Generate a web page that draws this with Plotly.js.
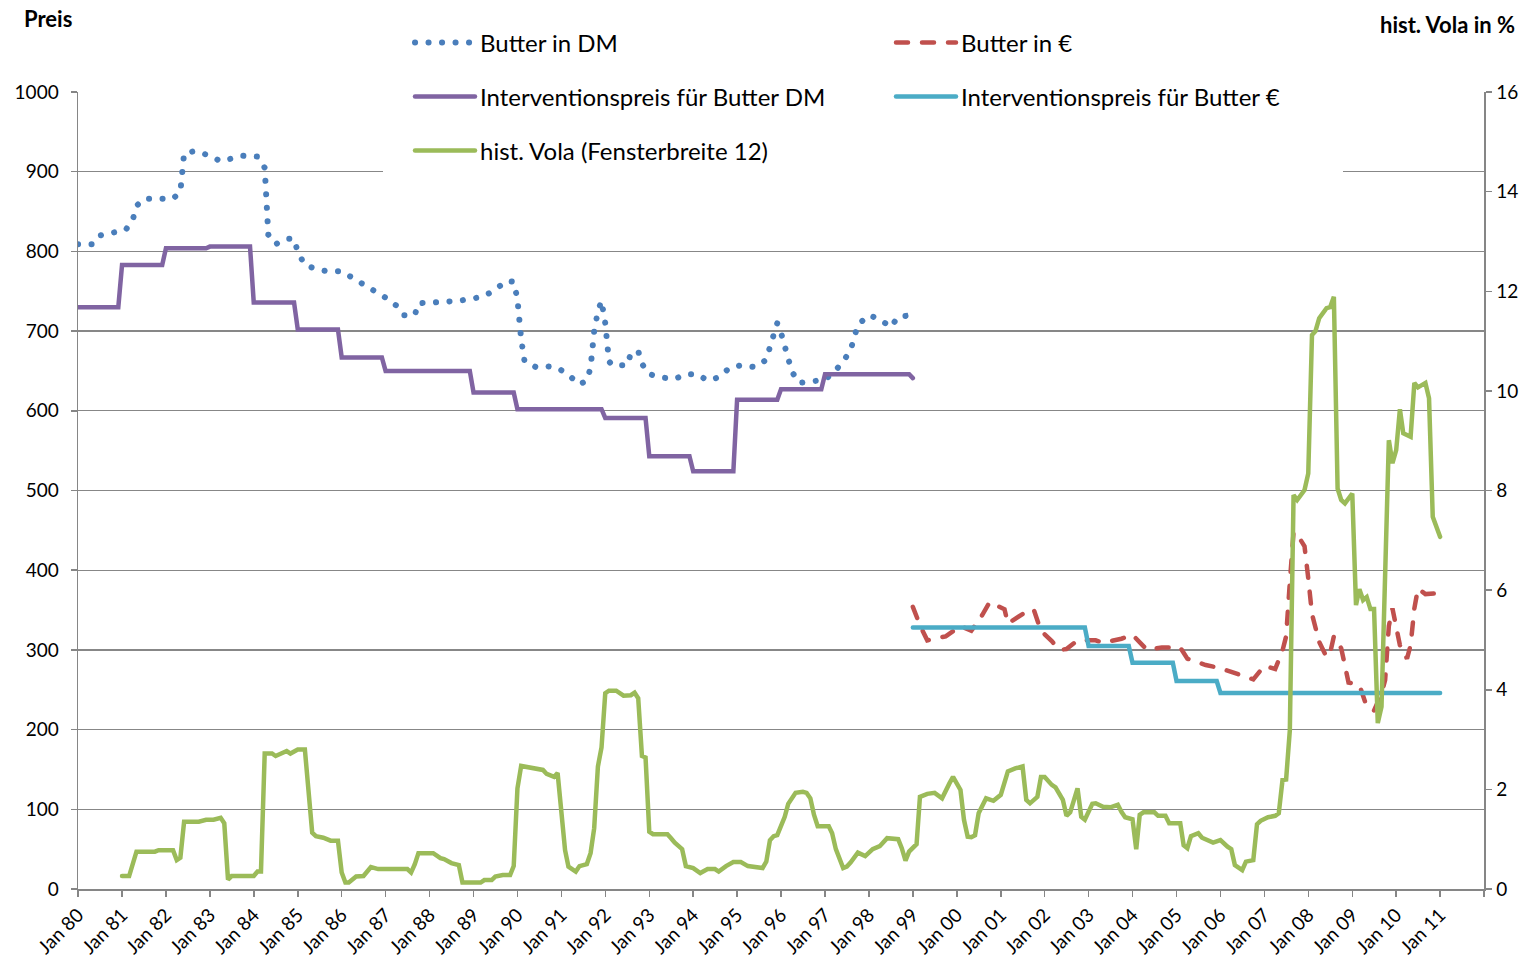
<!DOCTYPE html>
<html>
<head>
<meta charset="utf-8">
<script src="https://cdn.plot.ly/plotly-3.0.1.min.js"></script>
<style>
html,body{margin:0;padding:0;background:#fff;}
#chart{width:1532px;height:969px;}
.scatterlayer .js-line, .legendlines path { stroke-linecap: round; }
</style>
</head>
<body>
<div id="chart"></div>
<script>
// ---- Butter in DM (monthly) ----
const butterDMDates = ["1980-01","1980-05","1980-07","1980-11","1981-02","1981-04","1981-05","1981-07","1981-11","1982-03","1982-05","1982-06","1982-09","1983-01","1983-04","1983-07","1983-10","1984-02","1984-04","1984-05","1984-07","1984-10","1984-12","1985-01","1985-03","1985-06","1985-09","1986-01","1986-04","1986-07","1986-10","1987-01","1987-04","1987-06","1987-09","1987-10","1988-02","1988-06","1988-09","1989-01","1989-04","1989-07","1989-10","1989-12","1990-01","1990-02","1990-03","1990-06","1990-09","1990-12","1991-03","1991-06","1991-08","1991-09","1991-10","1991-11","1991-12","1992-01","1992-02","1992-03","1992-07","1992-08","1992-10","1992-11","1993-01","1993-04","1993-08","1993-11","1994-02","1994-05","1994-08","1994-11","1995-02","1995-06","1995-09","1995-10","1995-11","1995-12","1996-01","1996-03","1996-04","1996-06","1996-09","1997-01","1997-04","1997-06","1997-08","1997-10","1998-01","1998-04","1998-07","1998-09","1998-11","1998-12"];
const butterDMValues = [809,809,820,823,827,840,857,866,866,866,875,923,926,920,913,917,920,919,905,821,809,816,816,799,783,778,775,775,767,757,750,742,732,720,720,735,736,737,738,741,744,752,763,762,740,690,662,655,656,654,645,633,638,654,700,725,738,710,662,657,657,672,675,659,646,642,640,646,646,638,642,654,657,655,664,680,696,710,698,664,649,635,636,639,651,662,676,708,720,715,705,718,719,703];

// ---- Butter in Euro ----
const butterEURDates = ["1999-01","1999-03","1999-05","1999-10","2000-02","2000-05","2000-08","2000-10","2001-02","2001-03","2001-07","2001-10","2001-12","2002-03","2002-05","2002-07","2002-10","2003-03","2003-05","2003-10","2004-01","2004-05","2004-09","2005-02","2005-04","2005-09","2006-01","2006-06","2006-10","2007-01","2007-04","2007-06","2007-07","2007-08","2007-09","2007-10","2007-12","2008-01","2008-02","2008-04","2008-06","2008-07","2008-08","2008-10","2008-11","2008-12","2009-03","2009-05","2009-07","2009-09","2009-10","2009-11","2009-12","2010-01","2010-02","2010-04","2010-05","2010-06","2010-07","2010-09","2010-12","2011-01"];
const butterEURValues = [354,331,312,317,330,324,344,360,351,333,345,351,324,311,300,301,312,312,309,314,319,300,303,303,289,281,277,270,263,280,276,299,317,385,448,445,430,390,345,310,291,296,317,302,283,259,256,229,224,245,262,330,352,325,306,289,306,352,377,370,371,368];

// ---- Interventionspreis DM ----
const interventionDMDates = ["1980-01","1980-12","1981-01","1981-12","1982-01","1982-12","1983-01","1983-12","1984-01","1984-12","1985-01","1985-12","1986-01","1986-12","1987-01","1988-12","1989-01","1989-12","1990-01","1991-12","1992-01","1992-12","1993-01","1993-12","1994-01","1994-12","1995-01","1995-12","1996-01","1996-12","1997-01","1998-12","1999-01"];
const interventionDMValues = [730,730,783,783,804,804,806,806,736,736,702,702,667,667,650,650,623,623,602,602,591,591,543,543,524,524,614,614,627,627,646,646,641];

// ---- Interventionspreis Euro ----
const interventionEURDates = ["1999-01","2002-12","2003-01","2003-12","2004-01","2004-12","2005-01","2005-12","2006-01","2011-01"];
const interventionEURValues = [328,328,305,305,284,284,261,261,246,246];

// ---- hist. Vola (Fensterbreite 12), right axis in % ----
const volaDates = ["1981-01","1981-03","1981-05","1981-10","1981-11","1982-03","1982-04","1982-05","1982-06","1982-10","1982-12","1983-02","1983-04","1983-05","1983-06","1983-07","1984-01","1984-02","1984-03","1984-04","1984-06","1984-07","1984-10","1984-11","1985-01","1985-03","1985-05","1985-06","1985-08","1985-10","1985-12","1986-01","1986-02","1986-03","1986-05","1986-07","1986-09","1986-11","1987-07","1987-08","1987-09","1987-10","1988-02","1988-04","1988-05","1988-07","1988-09","1988-10","1989-03","1989-04","1989-06","1989-07","1989-09","1989-11","1989-12","1990-01","1990-02","1990-04","1990-06","1990-08","1990-09","1990-11","1990-12","1991-02","1991-03","1991-05","1991-06","1991-08","1991-09","1991-10","1991-11","1991-12","1992-01","1992-02","1992-04","1992-06","1992-08","1992-09","1992-10","1992-11","1992-12","1993-01","1993-02","1993-06","1993-07","1993-08","1993-10","1993-11","1994-01","1994-03","1994-05","1994-07","1994-08","1994-10","1994-12","1995-02","1995-04","1995-06","1995-08","1995-09","1995-10","1995-11","1995-12","1996-02","1996-03","1996-05","1996-07","1996-08","1996-09","1996-10","1996-11","1997-02","1997-03","1997-04","1997-06","1997-07","1997-08","1997-10","1997-12","1998-02","1998-04","1998-06","1998-09","1998-10","1998-11","1998-12","1999-02","1999-03","1999-05","1999-07","1999-09","1999-11","1999-12","2000-02","2000-03","2000-04","2000-05","2000-06","2000-07","2000-09","2000-11","2001-01","2001-03","2001-05","2001-07","2001-08","2001-09","2001-11","2001-12","2002-01","2002-03","2002-04","2002-06","2002-07","2002-08","2002-10","2002-11","2002-12","2003-02","2003-03","2003-05","2003-07","2003-09","2003-10","2003-11","2004-01","2004-02","2004-03","2004-04","2004-07","2004-08","2004-10","2004-11","2005-02","2005-03","2005-04","2005-05","2005-07","2005-08","2005-11","2006-01","2006-03","2006-04","2006-05","2006-07","2006-08","2006-10","2006-11","2006-12","2007-02","2007-04","2007-05","2007-06","2007-07","2007-08","2007-09","2007-10","2007-12","2008-01","2008-02","2008-03","2008-04","2008-05","2008-06","2008-07","2008-08","2008-09","2008-10","2008-11","2008-12","2009-01","2009-02","2009-03","2009-04","2009-05","2009-06","2009-07","2009-08","2009-09","2009-10","2009-11","2009-12","2010-01","2010-02","2010-03","2010-05","2010-06","2010-07","2010-09","2010-10","2010-11","2011-01"];
const volaValues = [0.26,0.26,0.75,0.75,0.78,0.78,0.58,0.63,1.35,1.35,1.39,1.39,1.43,1.32,0.19,0.26,0.26,0.35,0.35,2.72,2.72,2.67,2.77,2.72,2.80,2.80,1.13,1.06,1.03,0.97,0.97,0.33,0.13,0.13,0.25,0.26,0.44,0.40,0.40,0.33,0.50,0.72,0.72,0.62,0.60,0.52,0.48,0.13,0.13,0.18,0.18,0.25,0.28,0.28,0.46,2.02,2.47,2.44,2.42,2.39,2.31,2.25,2.33,0.78,0.45,0.35,0.46,0.50,0.72,1.22,2.46,2.84,3.93,3.98,3.98,3.88,3.89,3.94,3.83,2.67,2.64,1.15,1.10,1.10,1.02,0.93,0.80,0.46,0.42,0.32,0.40,0.40,0.35,0.46,0.54,0.54,0.46,0.45,0.42,0.55,0.98,1.06,1.08,1.45,1.71,1.93,1.95,1.93,1.82,1.49,1.26,1.26,1.12,0.80,0.42,0.45,0.53,0.73,0.66,0.80,0.86,1.02,1.00,0.82,0.57,0.75,0.90,1.85,1.91,1.93,1.82,2.12,2.25,1.99,1.39,1.05,1.04,1.08,1.52,1.82,1.77,1.89,2.36,2.42,2.46,1.79,1.72,1.85,2.25,2.25,2.09,2.04,1.79,1.47,1.54,2.02,1.45,1.39,1.71,1.72,1.65,1.64,1.69,1.55,1.44,1.40,0.80,1.49,1.54,1.54,1.47,1.47,1.32,1.32,0.88,0.82,1.06,1.12,1.03,0.93,0.98,0.85,0.80,0.48,0.38,0.55,0.58,1.30,1.37,1.44,1.47,1.52,2.19,2.20,3.19,7.91,7.81,8.01,8.34,11.12,11.20,11.46,11.56,11.66,11.68,11.89,8.04,7.81,7.74,7.85,7.94,5.70,6.02,5.80,5.86,5.62,5.62,3.33,3.66,6.30,9.01,8.55,8.81,9.63,9.15,9.08,10.16,10.07,10.16,9.85,7.47,7.07];

// ---- Axis ticks ----
const xTickDates = ["1980-01-01","1981-01-01","1982-01-01","1983-01-01","1984-01-01","1985-01-01","1986-01-01","1987-01-01","1988-01-01","1989-01-01","1990-01-01","1991-01-01","1992-01-01","1993-01-01","1994-01-01","1995-01-01","1996-01-01","1997-01-01","1998-01-01","1999-01-01","2000-01-01","2001-01-01","2002-01-01","2003-01-01","2004-01-01","2005-01-01","2006-01-01","2007-01-01","2008-01-01","2009-01-01","2010-01-01","2011-01-01","2012-01-01"];
const xTickLabels = ["Jan 80","Jan 81","Jan 82","Jan 83","Jan 84","Jan 85","Jan 86","Jan 87","Jan 88","Jan 89","Jan 90","Jan 91","Jan 92","Jan 93","Jan 94","Jan 95","Jan 96","Jan 97","Jan 98","Jan 99","Jan 00","Jan 01","Jan 02","Jan 03","Jan 04","Jan 05","Jan 06","Jan 07","Jan 08","Jan 09","Jan 10","Jan 11",""];

const seriesNames = ["Butter in DM","Butter in €","Interventionspreis für Butter DM","Interventionspreis für Butter €","hist. Vola (Fensterbreite 12)"];

const FONT = "Lato, 'Open Sans', sans-serif";
const AX = '#868686';

// pixel helpers for the fixed page layout
const L = 78, R = 1484, T = 92, B = 889;
const px = v => (v - L) / (R - L);
const py = v => (B - v) / (B - T);

const traces = [
  {x: butterDMDates, y: butterDMValues, name: seriesNames[0], type:'scatter', mode:'lines',
   line:{color:'#4A7EBB', width:6, dash:'0.1px,13.4px'}, legend:'legend'},
  {x: butterEURDates, y: butterEURValues, name: seriesNames[1], type:'scatter', mode:'lines',
   line:{color:'#C0504D', width:4.5, dash:'12px,14px'}, legend:'legend'},
  {x: interventionDMDates, y: interventionDMValues, name: seriesNames[2], type:'scatter', mode:'lines',
   line:{color:'#8064A2', width:4.5}, legend:'legend2'},
  {x: interventionEURDates, y: interventionEURValues, name: seriesNames[3], type:'scatter', mode:'lines',
   line:{color:'#4BACC6', width:4.5}, legend:'legend2'},
  {x: volaDates, y: volaValues, name: seriesNames[4], type:'scatter', mode:'lines', yaxis:'y2',
   line:{color:'#9BBB59', width:4.5}, legend:'legend3'}
];

const legBase = {orientation:'h', xanchor:'left', yanchor:'middle', entrywidth:406, entrywidthmode:'pixels',
  itemwidth:60, font:{family:FONT, size:24, color:'#000'}, bgcolor:'rgba(0,0,0,0)', borderwidth:0,
  traceorder:'normal', itemclick:false, itemdoubleclick:false};

const layout = {
  width:1532, height:969,
  margin:{l:78, r:48, t:92, b:80, autoexpand:false},
  paper_bgcolor:'#fff', plot_bgcolor:'#fff',
  font:{family:FONT, size:19, color:'#000'},
  hovermode:false,
  xaxis:{type:'date', range:['1980-01-01','2012-01-01'], tickmode:'array', tickvals:xTickDates, ticktext:xTickLabels,
    tickangle:-45, ticks:'outside', ticklen:6, tickwidth:1.5, tickcolor:AX, showline:true, linecolor:AX, linewidth:1.5,
    showgrid:false, zeroline:false, tickfont:{family:FONT, size:19, color:'#000'}},
  yaxis:{range:[0,1000], tickmode:'linear', tick0:0, dtick:100, ticks:'outside', ticklen:6, tickwidth:1.5, tickcolor:AX,
    showline:true, linecolor:AX, linewidth:1.5, showgrid:true, gridcolor:'#878787', gridwidth:1.3, zeroline:false,
    ticklabelstandoff:8, tickfont:{family:FONT, size:19, color:'#000'}},
  yaxis2:{range:[0,16], tickmode:'linear', tick0:0, dtick:2, overlaying:'y', side:'right', ticks:'outside', ticklen:6,
    tickwidth:1.5, tickcolor:AX, showline:true, linecolor:AX, linewidth:1.5, showgrid:false, zeroline:false,
    ticklabelstandoff:1, tickfont:{family:FONT, size:19, color:'#000'}},
  showlegend:true,
  legend: Object.assign({}, legBase, {x:px(410), y:py(43)}),
  legend2: Object.assign({}, legBase, {x:px(410), y:py(97)}),
  legend3: Object.assign({}, legBase, {x:px(410), y:py(151)}),
  shapes:[{type:'rect', xref:'paper', yref:'paper', x0:px(383), x1:px(1343), y0:py(178), y1:py(20),
    fillcolor:'#fff', line:{width:0}, layer:'above'}],
  annotations:[
    {text:'<b>Preis</b>', xref:'paper', yref:'paper', x:px(22), y:py(18), xanchor:'left', yanchor:'middle',
     showarrow:false, font:{family:FONT, size:22, color:'#000'}},
    {text:'<b>hist. Vola in %</b>', xref:'paper', yref:'paper', x:px(1517), y:py(25), xanchor:'right', yanchor:'middle',
     showarrow:false, font:{family:FONT, size:22, color:'#000'}}
  ]
};

Plotly.newPlot('chart', traces, layout, {displayModeBar:false, staticPlot:true});
</script>
</body>
</html>
